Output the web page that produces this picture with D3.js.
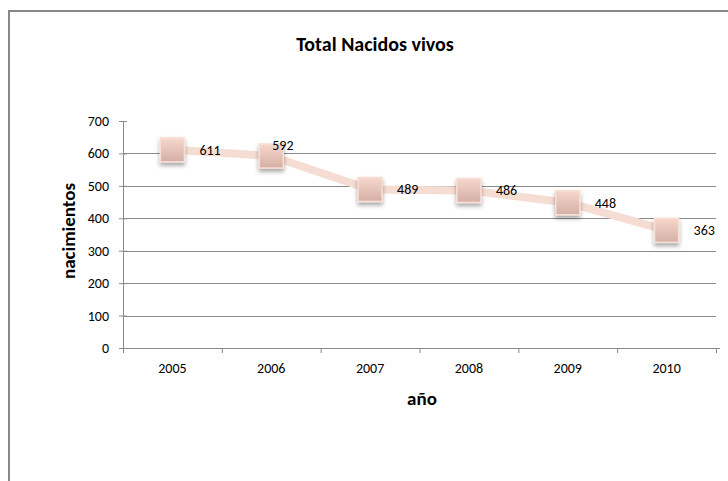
<!DOCTYPE html>
<html>
<head>
<meta charset="utf-8">
<script src="https://cdn.jsdelivr.net/npm/d3@7"></script>
<style>
  html, body { margin: 0; padding: 0; background: #fff; }
  text { font-family: Carlito, Calibri, Lato, "Open Sans", sans-serif; }
</style>
</head>
<body>
<div id="container"></div>
<script>
const width = 728, height = 481;

// --- Data ---
const years = ["2005", "2006", "2007", "2008", "2009", "2010"];
const births = [611, 592, 489, 486, 448, 363];
const yTicks = [0, 100, 200, 300, 400, 500, 600, 700];

const margin = { top: 121, right: 12, bottom: 133, left: 123 };
const iw = width - margin.left - margin.right;
const ih = height - margin.top - margin.bottom;
const axisGray = "#8a8a8a";

const svg = d3.select("#container").append("svg")
  .attr("width", width).attr("height", height);

const defs = svg.append("defs");
const grad = defs.append("linearGradient").attr("id", "mk").attr("x1", 0).attr("y1", 0).attr("x2", 0).attr("y2", 1);
grad.append("stop").attr("offset", "0%").attr("stop-color", "#f7d8cc");
grad.append("stop").attr("offset", "100%").attr("stop-color", "#d4aea4");
const sh = defs.append("filter").attr("id", "shadow").attr("x", "-30%").attr("y", "-30%").attr("width", "170%").attr("height", "170%");
sh.append("feDropShadow").attr("dx", 0).attr("dy", 3).attr("stdDeviation", 2)
  .attr("flood-color", "#000").attr("flood-opacity", 0.35);

// outer chart frame
svg.append("rect")
  .attr("x", 9).attr("y", 11).attr("width", width + 20).attr("height", height + 20)
  .attr("fill", "none").attr("stroke", "#888").attr("stroke-width", 2);

const g = svg.append("g").attr("transform", `translate(${margin.left},${margin.top})`);

const x = d3.scaleBand().domain(years).range([0, iw]);
const y = d3.scaleLinear().domain([0, 700]).range([ih, 0]);

// grid (no line at the top value)
g.append("g")
  .selectAll("line").data(yTicks.filter((d) => d > 0 && d < 700)).join("line")
  .attr("x1", 0).attr("x2", iw)
  .attr("y1", (d) => Math.round(y(d)) + 0.5).attr("y2", (d) => Math.round(y(d)) + 0.5)
  .attr("stroke", axisGray).attr("stroke-width", 1);

// y axis
const yAxis = g.append("g")
  .call(d3.axisLeft(y).tickValues(yTicks).tickSize(4).tickPadding(10));
yAxis.selectAll(".tick line").attr("x2", -4).attr("x1", 4);
// x axis
const xAxis = g.append("g")
  .attr("transform", `translate(0,${ih})`)
  .call(d3.axisBottom(x).tickSize(0).tickPadding(15));
xAxis.selectAll(".tick line").remove();
xAxis.append("g").selectAll("line")
  .data(years.map((d) => x(d)).concat([iw]))
  .join("line")
  .attr("x1", (d) => d + 0.5).attr("x2", (d) => d + 0.5)
  .attr("y1", 0).attr("y2", 5);

for (const ax of [xAxis, yAxis]) {
  ax.selectAll("text").attr("fill", "#000").style("font-size", "14px");
  ax.selectAll("line").attr("stroke", axisGray);
  ax.select(".domain").attr("stroke", axisGray);
}
yAxis.select(".domain").attr("d", `M0.5,0V${ih}`);
xAxis.select(".domain").attr("d", `M0,0.5H${iw + 4}`);

// line
const cx = (d, i) => x(years[i]) + x.bandwidth() / 2;
const line = d3.line().x((d, i) => cx(d, i)).y((d) => y(d));
g.append("path").datum(births)
  .attr("fill", "none")
  .attr("stroke", "#f6ddd3")
  .attr("stroke-width", 8)
  .attr("stroke-linejoin", "round")
  .attr("d", line);

// markers
const ms = 24;
g.selectAll(".mk").data(births).join("rect")
  .attr("class", "mk")
  .attr("x", (d, i) => cx(d, i) - ms / 2)
  .attr("y", (d) => y(d) - ms / 2)
  .attr("width", ms).attr("height", ms)
  .attr("fill", "url(#mk)")
  .attr("stroke", "#f8dfd5").attr("stroke-width", 1.5)
  .attr("filter", "url(#shadow)");

// data labels (right of marker; second one lifted to clear the line)
g.selectAll(".lbl").data(births).join("text")
  .attr("class", "lbl")
  .attr("x", (d, i) => cx(d, i) + (i === 1 ? 1 : 27))
  .attr("y", (d, i) => y(d) + 5 - (i === 1 ? 11 : 0))
  .attr("fill", "#000")
  .style("font-size", "14px")
  .text((d) => d);

// titles
svg.append("text")
  .attr("x", 375).attr("y", 51)
  .attr("text-anchor", "middle")
  .style("font-size", "20px").style("font-weight", "700")
  .text("Total Nacidos vivos");

svg.append("text")
  .attr("x", 422).attr("y", 405)
  .attr("text-anchor", "middle")
  .style("font-size", "19px").style("font-weight", "700")
  .text("año");

svg.append("text")
  .attr("transform", "rotate(-90)")
  .attr("x", -231).attr("y", 75)
  .attr("text-anchor", "middle")
  .style("font-size", "19px").style("font-weight", "700")
  .text("nacimientos");
</script>
</body>
</html>
